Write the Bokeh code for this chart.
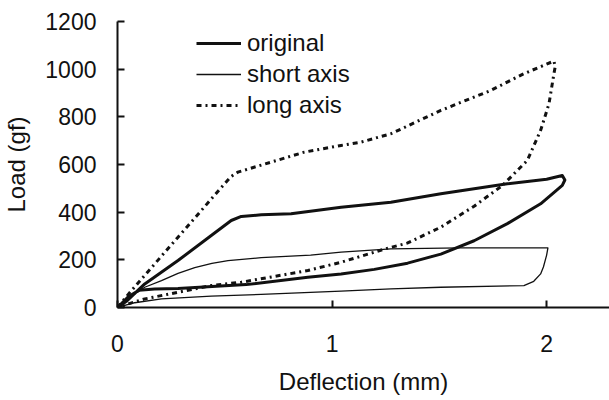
from bokeh.plotting import figure
from bokeh.models import Range1d, FixedTicker, Legend, LegendItem
from bokeh.embed import file_html
from bokeh.resources import INLINE

# ---- data ----
orig_x = [0, 0.04, 0.127, 0.282, 0.437, 0.53, 0.577, 0.67, 0.809, 1.042, 1.274, 1.507, 1.817, 2.0, 2.073,
          2.085, 2.073, 1.972, 1.817, 1.662, 1.507, 1.352, 1.197, 1.042, 0.887, 0.6, 0.282, 0.173, 0.1, 0.05, 0]
orig_y = [0, 25, 99, 197, 302, 365, 382, 389, 393, 421, 442, 477, 519, 538, 554,
          535, 512, 435, 352, 280, 224, 186, 160, 141, 127, 96, 80, 78, 72, 45, 0]

short_x = [0, 0.06, 0.127, 0.205, 0.282, 0.36, 0.44, 0.515, 0.67, 0.9, 1.042, 1.274, 1.6, 2.006,
           2.0, 1.985, 1.972, 1.94, 1.894, 1.507, 1.274, 1.042, 0.67, 0.437, 0.205, 0.08, 0]
short_y = [0, 45, 85, 113, 143, 167, 185, 197, 209, 220, 232, 246, 250, 250,
           220, 170, 141, 110, 92, 85, 78, 69, 55, 48, 36, 20, 0]

long_x = [0, 0.05, 0.127, 0.282, 0.437, 0.5, 0.53, 0.561, 0.65, 0.716, 0.871, 1.042, 1.135, 1.274, 1.507, 1.74,
          1.894, 2.034, 2.04, 2.034, 2.011, 1.972, 1.91, 1.794, 1.662, 1.507, 1.35, 1.243, 1.197, 1.042, 0.887,
          0.577, 0.437, 0.282, 0.127, 0.05, 0]
long_y = [0, 55, 135, 295, 455, 520, 550, 568, 592, 610, 652, 680, 694, 729, 827, 911,
          981, 1034, 1010, 981, 855, 743, 617, 512, 425, 337, 270, 245, 232, 190, 155,
          106, 92, 64, 36, 15, 0]

x_ticks = [0, 1, 2]
y_ticks = [0, 200, 400, 600, 800, 1000, 1200]

FONT = "Liberation Sans"
INK = "#111111"

p = figure(width=609, height=400, output_backend="svg", toolbar_location=None,
           x_range=Range1d(0, 2.293), y_range=Range1d(0, 1200),
           min_border_left=116, min_border_right=0, min_border_top=21, min_border_bottom=93)
p.outline_line_color = None
p.grid.visible = False
p.background_fill_color = "white"
p.border_fill_color = "white"

r_orig = p.line(orig_x, orig_y, line_color=INK, line_width=3, line_join="round")
r_short = p.line(short_x, short_y, line_color=INK, line_width=1.3, line_join="round")
r_long = p.line(long_x, long_y, line_color=INK, line_width=3, line_dash="5 4 2 4")

for ax in (p.xaxis[0], p.yaxis[0]):
    ax.axis_line_width = 2
    ax.axis_line_color = INK
    ax.major_tick_line_width = 2
    ax.major_tick_line_color = INK
    ax.major_tick_in = 7
    ax.major_tick_out = 0
    ax.minor_tick_line_color = None
    ax.major_label_text_font = FONT
    ax.major_label_text_font_size = "23px"
    ax.major_label_text_color = INK
    ax.axis_label_text_font = FONT
    ax.axis_label_text_font_size = "24px"
    ax.axis_label_text_font_style = "normal"
    ax.axis_label_text_color = INK

p.xaxis[0].ticker = FixedTicker(ticks=x_ticks)
p.yaxis[0].ticker = FixedTicker(ticks=y_ticks)
p.xaxis[0].axis_label = "Deflection (mm)"
p.yaxis[0].axis_label = "Load (gf)"
p.xaxis[0].major_label_standoff = 27
p.xaxis[0].axis_label_standoff = 13
p.yaxis[0].major_label_standoff = 21
p.yaxis[0].axis_label_standoff = 12

legend = Legend(items=[LegendItem(label="original", renderers=[r_orig]),
                       LegendItem(label="short axis", renderers=[r_short]),
                       LegendItem(label="long axis", renderers=[r_long])],
                location=(79, 188), padding=0, margin=0, spacing=3,
                glyph_width=45, glyph_height=28, label_height=28, label_standoff=6,
                label_text_font=FONT, label_text_font_size="24px", label_text_color=INK,
                border_line_color=None, background_fill_alpha=0)
p.add_layout(legend)

open("out.html", "w").write(file_html(p, INLINE))
